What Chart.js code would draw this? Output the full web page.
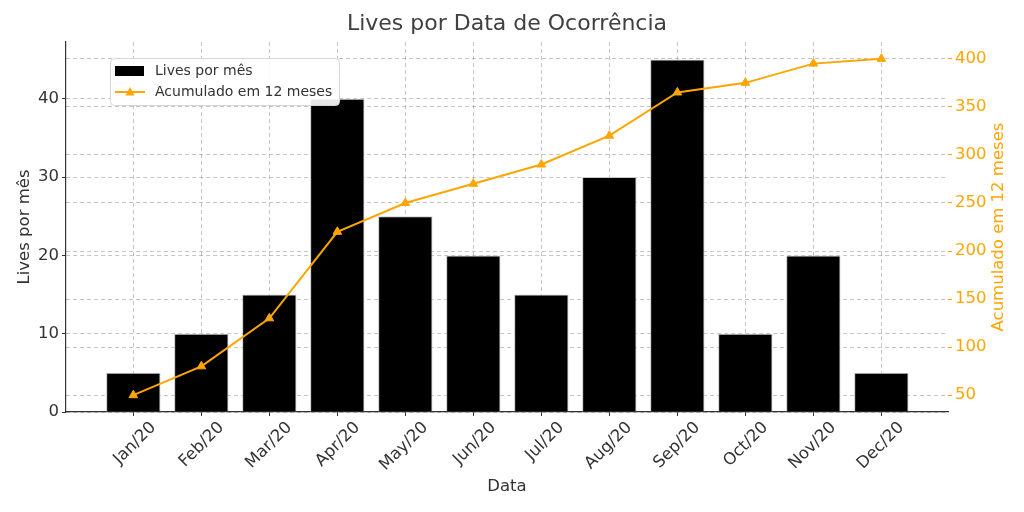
<!DOCTYPE html>
<html>
<head>
<meta charset="utf-8">
<script src="https://cdn.jsdelivr.net/npm/chart.js@4/dist/chart.umd.min.js"></script>
<style>
  body { margin: 0; background: #fff; }
  #wrap { width: 1024px; height: 512px; position: relative; }
</style>
</head>
<body>
<div id="wrap"><canvas id="chart"></canvas></div>
<script>
'use strict';

const months = ['Jan/20', 'Feb/20', 'Mar/20', 'Apr/20', 'May/20', 'Jun/20', 'Jul/20', 'Aug/20', 'Sep/20', 'Oct/20', 'Nov/20', 'Dec/20'];
const livesPorMes = [5, 10, 15, 40, 25, 20, 15, 30, 45, 10, 20, 5];
const acumulado12 = [50, 80, 130, 220, 250, 270, 290, 320, 365, 375, 395, 400];
const leftTicks = [0, 10, 20, 30, 40];
const rightTicks = [50, 100, 150, 200, 250, 300, 350, 400];

const ORANGE = '#FFA500';
const TEXT = '#333333';
const GRID = 'rgba(128,128,128,0.45)';
const TICK_SIZE = 16.5;
const LABEL_SIZE = 16.5;

Chart.defaults.font.family = "'DejaVu Sans', sans-serif";
Chart.defaults.color = TEXT;

// legend inside the plot (top-left) and the right axis title read bottom-to-top
const extras = {
  id: 'extras',
  afterDraw(chart) {
    const ctx = chart.ctx;
    const [bars, line] = chart.data.datasets;
    ctx.save();
    ctx.beginPath();
    ctx.roundRect(110.5, 58.5, 229, 47, 4);
    ctx.fillStyle = 'rgba(255,255,255,0.9)';
    ctx.fill();
    ctx.strokeStyle = '#d6d6d6';
    ctx.lineWidth = 1;
    ctx.stroke();

    ctx.fillStyle = bars.backgroundColor;
    ctx.fillRect(115, 66, 29, 10);

    ctx.strokeStyle = line.borderColor;
    ctx.lineWidth = 2;
    ctx.beginPath();
    ctx.moveTo(115, 92);
    ctx.lineTo(145, 92);
    ctx.stroke();
    ctx.fillStyle = line.borderColor;
    ctx.beginPath();
    ctx.moveTo(130, 87);
    ctx.lineTo(134.5, 95.5);
    ctx.lineTo(125.5, 95.5);
    ctx.closePath();
    ctx.fill();

    ctx.fillStyle = TEXT;
    ctx.font = "14px 'DejaVu Sans'";
    ctx.textBaseline = 'middle';
    ctx.fillText(bars.label, 155, 71);
    ctx.fillText(line.label, 155, 92);

    const area = chart.chartArea;
    ctx.translate(999, (area.top + area.bottom) / 2);
    ctx.rotate(-Math.PI / 2);
    ctx.textAlign = 'center';
    ctx.fillStyle = ORANGE;
    ctx.font = `${LABEL_SIZE}px 'DejaVu Sans'`;
    ctx.fillText(line.label, 0, 0);
    ctx.restore();
  }
};

new Chart(document.getElementById('chart'), {
  type: 'bar',
  data: {
    datasets: [
      {
        type: 'bar',
        label: 'Lives por mês',
        data: months.map((_, i) => ({ x: i, y: livesPorMes[i] })),
        backgroundColor: '#000000',
        borderColor: '#c8c8c8',
        borderWidth: 1,
        borderSkipped: 'bottom',
        categoryPercentage: 1,
        barPercentage: 0.8,
        yAxisID: 'y',
        order: 1,
      },
      {
        type: 'line',
        label: 'Acumulado em 12 meses',
        data: months.map((_, i) => ({ x: i, y: acumulado12[i] })),
        borderColor: ORANGE,
        backgroundColor: ORANGE,
        borderWidth: 2,
        pointStyle: 'triangle',
        pointRadius: 5,
        pointBorderWidth: 1,
        tension: 0,
        yAxisID: 'y2',
        order: 0,
      },
    ],
  },
  options: {
    responsive: true,
    maintainAspectRatio: false,
    animation: false,
    layout: { padding: 0 },
    plugins: {
      legend: { display: false },
      tooltip: { enabled: false },
      title: {
        display: true,
        text: 'Lives por Data de Ocorrência',
        fullSize: false,
        color: '#404040',
        font: { size: 22, weight: 'normal' },
        padding: { top: 11, bottom: 4.6 },
      },
    },
    scales: {
      x: {
        type: 'linear',
        min: -0.99,
        max: 11.98,
        offset: false,
        z: 1,
        afterBuildTicks: axis => { axis.ticks = months.map((_, i) => ({ value: i })); },
        afterFit: axis => { axis.height = 100; },
        ticks: {
          autoSkip: false,
          maxRotation: 45,
          minRotation: 45,
          padding: 2,
          labelOffset: 20,
          font: { size: TICK_SIZE },
          color: TEXT,
          callback: value => months[value] || '',
        },
        grid: { offset: false, color: GRID, tickLength: 4, tickColor: TEXT, lineWidth: 1 },
        border: { display: true, color: TEXT, width: 1.2, dash: [4, 3] },
        title: { display: true, text: 'Data', font: { size: LABEL_SIZE }, color: TEXT, padding: { top: 0, bottom: 15 } },
      },
      y: {
        type: 'linear',
        position: 'left',
        min: 0,
        max: 47.25,
        z: 1,
        afterBuildTicks: axis => { axis.ticks = leftTicks.map(value => ({ value })); },
        afterFit: axis => { axis.width = 66; },
        ticks: { font: { size: TICK_SIZE }, color: TEXT, padding: 3 },
        grid: { color: GRID, tickLength: 4, tickColor: TEXT },
        border: { display: true, color: TEXT, width: 1.2, dash: [4, 3] },
        title: { display: true, text: 'Lives por mês', font: { size: LABEL_SIZE }, color: TEXT, padding: { top: 15, bottom: 0 } },
      },
      y2: {
        type: 'linear',
        position: 'right',
        min: 32.5,
        max: 417.5,
        z: 1,
        afterBuildTicks: axis => { axis.ticks = rightTicks.map(value => ({ value })); },
        afterFit: axis => { axis.width = 76; },
        ticks: { font: { size: TICK_SIZE }, color: ORANGE, padding: 3 },
        grid: { color: GRID, tickLength: 4, tickColor: ORANGE },
        border: { display: false, dash: [4, 3] },
        title: { display: false },
      },
    },
  },
  plugins: [extras],
});
</script>
</body>
</html>
